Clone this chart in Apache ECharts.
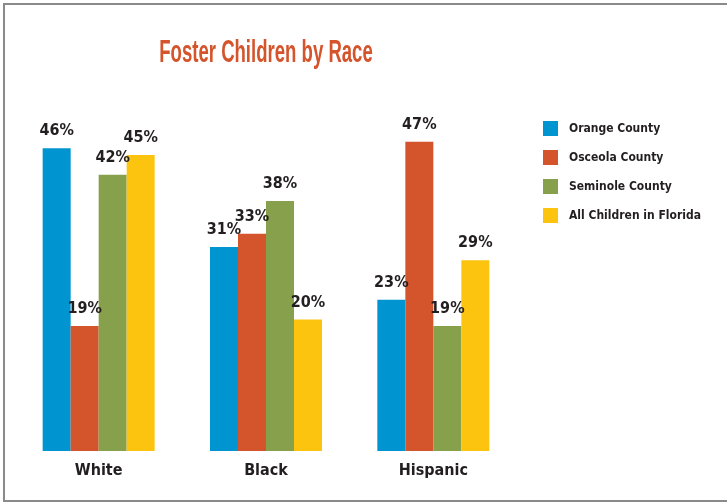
<!DOCTYPE html>
<html>
<head>
<meta charset="utf-8">
<script src="https://cdn.jsdelivr.net/npm/echarts@6/dist/echarts.min.js"></script>
<style>
html,body{margin:0;padding:0;background:#fff;}
#c{width:727px;height:502px;}
</style>
</head>
<body>
<div id="c"></div>
<script>
var categories = ['White', 'Black', 'Hispanic'];
var seriesNames = ['Orange County', 'Osceola County', 'Seminole County', 'All Children in Florida'];
var orangeCounty = [46, 31, 23];
var osceolaCounty = [19, 33, 47];
var seminoleCounty = [42, 38, 19];
var allFlorida = [45, 20, 29];
var titleText = 'Foster Children by Race';
var colors = ['#0094D1', '#D4542C', '#87A04C', '#FCC40F'];

var FONT = '"DejaVu Sans Condensed", "Liberation Sans Narrow", sans-serif';
var chart = echarts.init(document.getElementById('c'));
var dataSets = [orangeCounty, osceolaCounty, seminoleCounty, allFlorida];
var series = dataSets.map(function (d, i) {
  return {
    name: seriesNames[i],
    type: 'bar',
    data: d,
    barWidth: 28,
    barGap: '0%',
    itemStyle: { color: colors[i] },
    label: {
      show: true,
      position: 'top',
      distance: 9,
      formatter: '{c}%',
      fontFamily: FONT,
      fontWeight: 'bold',
      fontSize: 16,
      color: '#231F20'
    },
    emphasis: { disabled: true }
  };
});
chart.setOption({
  animation: false,
  backgroundColor: '#fff',
  legend: {
    orient: 'vertical',
    left: 543,
    top: 121,
    padding: 0,
    itemWidth: 15,
    itemHeight: 15,
    itemGap: 14,
    icon: 'rect',
    data: seriesNames,
    textStyle: { fontFamily: FONT, fontWeight: 'bold', fontSize: 12, color: '#231F20', padding: [0, 0, 0, 6] }
  },
  grid: { left: 15, width: 502, top: 122, bottom: 51, containLabel: false },
  xAxis: {
    type: 'category',
    data: categories,
    axisLine: { show: false },
    axisTick: { show: false },
    axisLabel: { margin: 12, fontFamily: FONT, fontWeight: 'bold', fontSize: 16, color: '#231F20' }
  },
  yAxis: {
    type: 'value',
    min: 0,
    max: 50,
    show: false,
    splitLine: { show: false }
  },
  graphic: [{
    type: 'rect',
    shape: { x: 4, y: 4, width: 760, height: 497 },
    style: { fill: 'none', stroke: '#8a8a8a', lineWidth: 2 },
    silent: true
  }, {
    type: 'text',
    x: 266,
    y: 53,
    scaleX: 0.58,
    silent: true,
    style: {
      text: titleText,
      textAlign: 'center',
      textVerticalAlign: 'middle',
      font: 'bold 32px "Liberation Sans", Arial, sans-serif',
      fill: '#D4542C'
    }
  }],
  series: series
});
</script>
</body>
</html>
